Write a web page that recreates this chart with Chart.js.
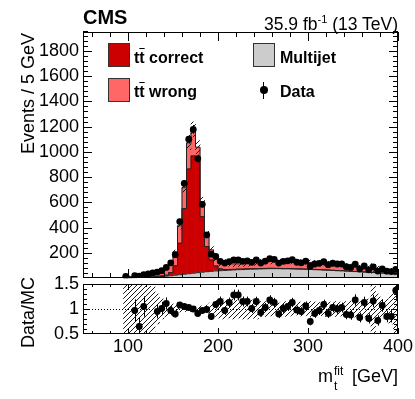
<!DOCTYPE html>
<html lang="en">
<head>
  <meta charset="UTF-8">
  <title>m_t fit</title>
  <script src="https://cdn.jsdelivr.net/npm/chart.js"></script>
  <style>
    body { margin: 0; background: #fff; font-family: 'Liberation Sans', Arial, sans-serif; }
    #wrap { position: relative; width: 415px; height: 399px; overflow: hidden; }
    canvas { position: absolute; left: 0; }
    .txt { position: absolute; white-space: nowrap; color: #000; }
    .box { position: absolute; width: 22px; height: 24px; border: 1px solid #333; box-sizing: border-box; }
    .leg { position: absolute; white-space: nowrap; font-weight: bold; font-size: 16px; line-height: 16px; }
    .ov { text-decoration: overline; }
  </style>
</head>
<body>
<div id="wrap">
  <canvas id="mainChart" width="415" height="282" style="top:0"></canvas>
  <canvas id="ratioChart" width="415" height="100" style="top:262px"></canvas>

  <div class="txt" style="left:83px; top:7px; font-size:20px; line-height:20px; font-weight:bold;">CMS</div>
  <div class="txt" style="right:17px; top:10px; font-size:17.5px; line-height:18px;">35.9 fb<sup style="font-size:11px; vertical-align:7px;">-1</sup> (13 TeV)</div>

  <div class="box" style="left:108px; top:43px; background:#cc0000;"></div>
  <div class="leg" style="left:134px; top:50px;">t<span class="ov">t</span> correct</div>
  <div class="box" style="left:108px; top:78px; background:#ff6666;"></div>
  <div class="leg" style="left:134px; top:84px;">t<span class="ov">t</span> wrong</div>
  <div class="box" style="left:253px; top:43px; background:#cccccc;"></div>
  <div class="leg" style="left:280px; top:50px;">Multijet</div>
  <div style="position:absolute; left:263px; top:82px; width:1px; height:17px; background:#000;"></div>
  <div style="position:absolute; left:260px; top:86px; width:8px; height:8px; border-radius:50%; background:#000;"></div>
  <div class="leg" style="left:280px; top:84px;">Data</div>

  <div class="txt" style="left:18px; top:233px; width:200px; text-align:right; font-size:18px; line-height:20px; transform-origin:left top; transform:rotate(-90deg);">Events / 5 GeV</div>
  <div class="txt" style="left:18px; top:477px; width:200px; text-align:right; font-size:18px; line-height:20px; transform-origin:left top; transform:rotate(-90deg);">Data/MC</div>

  <div class="txt" style="right:17px; top:366px; font-size:18px; line-height:20px;">m<span style="display:inline-block; position:relative; width:14px; height:20px; vertical-align:top;"><span style="position:absolute; left:1px; top:-5px; font-size:12px;">fit</span><span style="position:absolute; left:1px; top:10px; font-size:12px;">t</span></span> [GeV]</div>
</div>

<script>
  // bin centres, 5 GeV bins from 95 to 400 GeV
  const massBins = Array.from({ length: 61 }, (_, i) => 97.5 + 5 * i);

  const multijet = [2, 3, 3, 4, 5, 6, 8, 10, 12, 15, 18, 22, 26, 30, 34, 38, 42, 46, 50, 53,
    56, 58, 60, 62, 64, 66, 67, 69, 70, 71, 72, 73, 74, 74, 74, 73, 73, 72, 71, 70,
    69, 68, 66, 65, 63, 62, 60, 58, 57, 55, 53, 51, 49, 47, 45, 43, 41, 39, 37, 35, 30];

  const ttCorrect = [0, 0, 1, 1, 1, 2, 2, 3, 5, 8, 25, 75, 250, 520, 830, 930, 890, 440, 200, 90,
    40, 15, 8, 6, 5, 5, 4, 4, 4, 3, 3, 3, 3, 3, 2, 2, 2, 2, 2, 2,
    2, 2, 2, 2, 2, 2, 1, 1, 1, 1, 1, 1, 1, 1, 1, 1, 1, 1, 1, 1, 1];

  const ttWrong = [6, 8, 15, 17, 19, 22, 28, 37, 40, 52, 81, 108, 138, 166, 207, 210, 105, 118, 94, 80,
    60, 42, 54, 47, 43, 41, 44, 45, 48, 51, 53, 54, 53, 54, 55, 55, 55, 55, 55, 55,
    55, 54, 54, 53, 53, 52, 52, 52, 50, 44, 42, 40, 38, 36, 34, 32, 30, 28, 26, 24, 19];

  const dataCounts = [13, null, 18, 14, 26, 32, 40, 47, 58, 84, 120, 185, 447, 750, 1100, 1178, 947, 584, 342, 189,
    171, 132, 118, 130, 143, 143, 132, 135, 124, 143, 119, 134, 153, 148, 118, 132, 136, 145, 125, 120,
    134, 93, 111, 116, 129, 106, 117, 111, 111, 89, 84, 109, 73, 95, 65, 88, 55, 73, 54, 51, 68];

  const ratioVals = [null, null, 0.97, 0.65, 1.05, null, null, 0.95, 1.01, 1.11, 0.97, 0.90, 1.08, 1.05, 1.03, 1.00, 0.91, 0.97, 0.99, 0.85,
    1.09, 1.15, 0.97, 1.13, 1.28, 1.28, 1.15, 1.15, 1.01, 1.15, 0.93, 1.03, 1.18, 1.13, 0.90, 1.01, 1.05, 1.13, 0.98, 0.95,
    1.06, 0.75, 0.91, 0.97, 1.09, 0.91, 1.03, 1.00, 1.03, 0.89, 0.88, 1.18, 0.83, 1.13, 0.81, 1.16, 0.77, 1.07, 0.85, 0.85, 1.37];

  // relative MC uncertainty (hatched band)
  const mcUnc = [0.5, 0.5, 0.5, 0.5, 0.5, 0.5, 0.45, 0.3, 0.2, 0.15, 0.12, 0.08, 0.06, 0.05, 0.05, 0.05, 0.05, 0.06, 0.08, 0.12,
    0.15, 0.18, 0.2, 0.18, 0.2, 0.18, 0.2, 0.2, 0.18, 0.2, 0.15, 0.15, 0.14, 0.13, 0.12, 0.14, 0.15, 0.13, 0.12, 0.14,
    0.13, 0.15, 0.14, 0.13, 0.15, 0.14, 0.13, 0.15, 0.14, 0.15, 0.16, 0.16, 0.15, 0.16, 0.2, 0.5, 0.3, 0.18, 0.2, 0.3, 0.5];

  const xTicks = [100, 200, 300, 400];
  const yTicks = [200, 400, 600, 800, 1000, 1200, 1400, 1600, 1800];
  const ratioTicks = [0.5, 1, 1.5];

  const FONT = "'Liberation Sans', Arial, sans-serif";
  Chart.defaults.font.family = FONT;
  Chart.defaults.font.size = 18;
  Chart.defaults.color = '#000';

  const mcTotal = massBins.map((_, i) => multijet[i] + ttCorrect[i] + ttWrong[i]);
  const pts = arr => massBins.map((x, i) => ({ x, y: arr[i] }));
  const plain = v => String(v);

  const hatch = (() => {
    const c = document.createElement('canvas');
    c.width = 5; c.height = 5;
    const g = c.getContext('2d');
    g.strokeStyle = '#1a1a1a';
    g.lineWidth = 1;
    g.beginPath();
    g.moveTo(0, 5); g.lineTo(5, 0);
    g.moveTo(-1, 1); g.lineTo(1, -1);
    g.moveTo(4, 6); g.lineTo(6, 4);
    g.stroke();
    return g.createPattern(c, 'repeat');
  })();

  // frame + inward ticks on all four sides
  const framePlugin = {
    id: 'frame',
    afterDraw(chart, args, o) {
      const { ctx, chartArea: a, scales: { x, y } } = chart;
      ctx.save();
      ctx.strokeStyle = '#000';
      ctx.lineWidth = 1;
      ctx.beginPath();
      for (let v = 60; v <= 400; v += 20) {
        const px = Math.round(x.getPixelForValue(v)) + 0.5;
        const len = v % 100 === 0 ? o.xMajor : o.xMinor;
        ctx.moveTo(px, a.bottom); ctx.lineTo(px, a.bottom - len);
        ctx.moveTo(px, a.top); ctx.lineTo(px, a.top + len);
      }
      const n = Math.round((y.max - y.min) / o.yStep);
      for (let k = 1; k <= n; k++) {
        const v = y.min + k * o.yStep;
        const r = v / o.yMajorStep;
        const len = Math.abs(r - Math.round(r)) < 1e-6 ? o.yMajor : o.yMinor;
        const py = Math.round(y.getPixelForValue(v)) + 0.5;
        ctx.moveTo(a.left, py); ctx.lineTo(a.left + len, py);
        ctx.moveTo(a.right, py); ctx.lineTo(a.right - len, py);
      }
      ctx.stroke();
      ctx.strokeRect(a.left + 0.5, a.top + 0.5, a.right - a.left - 1, a.bottom - a.top - 1);
      ctx.restore();
    }
  };

  // vertical error bars for the data points
  const errPlugin = {
    id: 'errs',
    afterDatasetsDraw(chart, args, o) {
      if (!o.values) return;
      const { ctx, chartArea: a, scales: { x, y } } = chart;
      ctx.save();
      ctx.beginPath();
      ctx.rect(a.left, a.top, a.right - a.left, a.bottom - a.top);
      ctx.clip();
      ctx.strokeStyle = '#000';
      ctx.lineWidth = 1;
      ctx.beginPath();
      o.values.forEach((v, i) => {
        if (v == null) return;
        const px = Math.round(x.getPixelForValue(massBins[i])) + 0.5;
        ctx.moveTo(px, y.getPixelForValue(v - o.errors[i]));
        ctx.lineTo(px, y.getPixelForValue(v + o.errors[i]));
      });
      ctx.stroke();
      if (o.unity) {
        const py = Math.round(y.getPixelForValue(1)) + 0.5;
        ctx.setLineDash([1, 2]);
        ctx.beginPath();
        ctx.moveTo(a.left, py); ctx.lineTo(a.right, py);
        ctx.stroke();
      }
      ctx.restore();
    }
  };

  // step outline of the stacked histograms
  const outlinePlugin = {
    id: 'outline',
    afterDatasetDraw(chart, args, o) {
      if (!o.sets || args.index !== 0) return;
      const ctx = chart.ctx;
      ctx.save();
      ctx.strokeStyle = '#222';
      ctx.lineWidth = 1;
      o.sets.forEach(k => {
        const bars = chart.getDatasetMeta(k).data;
        ctx.beginPath();
        bars.forEach((b, i) => {
          const l = b.x - b.width / 2, r = b.x + b.width / 2;
          if (i === 0) { ctx.moveTo(l, b.base); }
          ctx.lineTo(l, b.y);
          ctx.lineTo(r, b.y);
          if (i === bars.length - 1) ctx.lineTo(r, b.base);
        });
        ctx.stroke();
      });
      ctx.restore();
    }
  };

  const histStyle = { type: 'bar', borderWidth: 0, barPercentage: 1, categoryPercentage: 1, order: 2 };

  new Chart(document.getElementById('mainChart'), {
    type: 'bar',
    data: {
      datasets: [
        { ...histStyle, label: 'Multijet', data: pts(multijet), backgroundColor: '#cccccc' },
        { ...histStyle, label: 'tt correct', data: pts(ttCorrect), backgroundColor: '#cc0000' },
        { ...histStyle, label: 'tt wrong', data: pts(ttWrong), backgroundColor: '#ff6666' },
        {
          type: 'bar', label: 'unc',
          data: massBins.map((x, i) => ({ x, y: [mcTotal[i] * (1 - mcUnc[i]), mcTotal[i] * (1 + mcUnc[i])] })),
          backgroundColor: hatch, borderWidth: 0, barPercentage: 1, categoryPercentage: 1,
          grouped: false, stack: 'unc', order: 1
        },
        {
          type: 'line', label: 'Data', data: pts(dataCounts), showLine: false,
          pointRadius: 3.4, pointBackgroundColor: '#000', pointBorderWidth: 0, order: 0
        }
      ]
    },
    options: {
      responsive: false,
      animation: false,
      devicePixelRatio: 1,
      events: [],
      layout: { padding: { top: 32, right: 17, bottom: 2, left: 0 } },
      scales: {
        x: {
          type: 'linear', min: 50, max: 400, offset: false, stacked: true, display: false,
          afterBuildTicks: s => { s.ticks = xTicks.map(v => ({ value: v })); }
        },
        y: {
          min: 0, max: 1950, stacked: true,
          grid: { display: false, drawTicks: false },
          border: { display: false },
          ticks: { padding: 4, autoSkip: false, callback: plain },
          afterBuildTicks: s => { s.ticks = yTicks.map(v => ({ value: v })); },
          afterFit: s => { s.width = 83; s.paddingTop = 0; s.paddingBottom = 0; }
        }
      },
      plugins: {
        legend: { display: false },
        tooltip: { enabled: false },
        frame: { xMajor: 9, xMinor: 5, yStep: 40, yMajorStep: 200, yMajor: 9, yMinor: 5 },
        errs: { values: dataCounts, errors: dataCounts.map(v => v == null ? 0 : Math.sqrt(v)) },
        outline: { sets: [0, 1, 2] }
      }
    },
    plugins: [outlinePlugin, errPlugin, framePlugin]
  });

  new Chart(document.getElementById('ratioChart'), {
    type: 'bar',
    data: {
      datasets: [
        {
          type: 'bar', label: 'unc',
          data: massBins.map((x, i) => ({ x, y: [1 - mcUnc[i], 1 + mcUnc[i]] })),
          backgroundColor: hatch, borderWidth: 0, barPercentage: 1, categoryPercentage: 1, order: 1
        },
        {
          type: 'line', label: 'Data/MC', data: pts(ratioVals), showLine: false,
          pointRadius: 3.4, pointBackgroundColor: '#000', pointBorderWidth: 0, order: 0
        }
      ]
    },
    options: {
      responsive: false,
      animation: false,
      devicePixelRatio: 1,
      events: [],
      layout: { padding: { top: 22, right: 17, bottom: 0, left: 0 } },
      scales: {
        x: {
          type: 'linear', min: 50, max: 400, offset: false,
          grid: { display: false, drawTicks: false },
          border: { display: false },
          ticks: { padding: 2, autoSkip: false, maxRotation: 0, callback: plain },
          afterBuildTicks: s => { s.ticks = xTicks.map(v => ({ value: v })); },
          afterFit: s => { s.height = 28; s.paddingLeft = 0; s.paddingRight = 0; }
        },
        y: {
          min: 0.5, max: 1.5,
          grid: { display: false, drawTicks: false },
          border: { display: false },
          ticks: { padding: 4, autoSkip: false, callback: plain },
          afterBuildTicks: s => { s.ticks = ratioTicks.map(v => ({ value: v })); },
          afterFit: s => { s.width = 83; s.paddingTop = 0; s.paddingBottom = 0; }
        }
      },
      plugins: {
        legend: { display: false },
        tooltip: { enabled: false },
        frame: { xMajor: 6, xMinor: 3, yStep: 0.1, yMajorStep: 0.5, yMajor: 7, yMinor: 4 },
        errs: {
          values: ratioVals, unity: true,
          errors: ratioVals.map((v, i) => v == null ? 0 : Math.sqrt(dataCounts[i]) / mcTotal[i])
        }
      }
    },
    plugins: [errPlugin, framePlugin]
  });
</script>
</body>
</html>
